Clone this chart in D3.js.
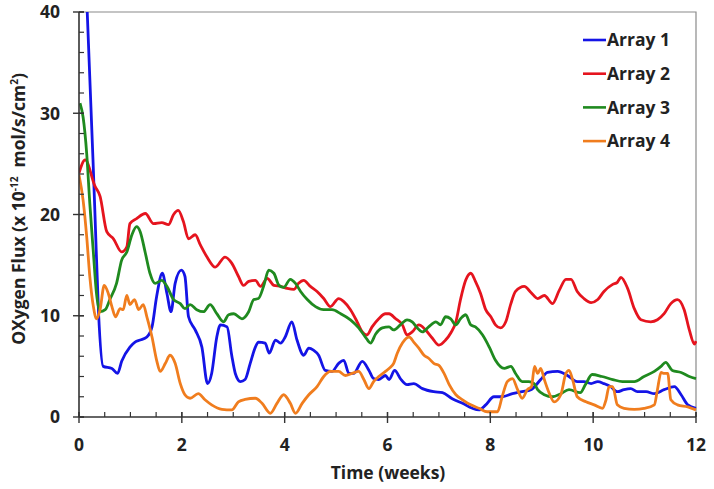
<!DOCTYPE html>
<html>
<head>
<meta charset="utf-8">
<script src="https://cdn.jsdelivr.net/npm/d3@7"></script>
<style>
  html, body { margin: 0; padding: 0; background: #fff; }
  svg { display: block; font-family: "Open Sans", "DejaVu Sans", sans-serif; }
</style>
</head>
<body>
<svg id="chart" width="714" height="489"></svg>
<script>
// ---- data (time in weeks, flux x 1e-12 mol/s/cm2) ----
const seriesNames = ["Array 1", "Array 2", "Array 3", "Array 4"];
const seriesColors = ["#1414e6", "#e5141e", "#1f8a1f", "#f07d1e"];
const xTicks = [0, 2, 4, 6, 8, 10, 12];
const yTicks = [0, 10, 20, 30, 40];

const array1 = [[0.12,44],[0.16,40],[0.31,20.1],[0.38,10.3],[0.47,5.0],[0.64,4.8],[0.75,4.3],[0.83,5.5],[0.99,6.9],[1.09,7.4],[1.19,7.6],[1.32,7.9],[1.42,8.9],[1.51,11.9],[1.62,14.2],[1.71,12.2],[1.79,10.4],[1.87,13.2],[1.99,14.5],[2.06,13.9],[2.13,9.9],[2.26,8.6],[2.39,6.9],[2.50,3.3],[2.58,4.3],[2.68,7.9],[2.75,9.1],[2.88,8.9],[2.97,6.1],[3.04,4.3],[3.14,3.5],[3.23,3.7],[3.33,5.3],[3.43,6.9],[3.49,7.4],[3.62,7.3],[3.70,6.3],[3.82,7.6],[3.92,7.3],[4.01,7.9],[4.14,9.4],[4.24,7.6],[4.37,6.1],[4.47,6.8],[4.56,6.6],[4.66,6.1],[4.79,4.6],[4.92,4.5],[5.05,5.3],[5.15,5.6],[5.25,4.3],[5.34,4.3],[5.51,5.5],[5.64,4.6],[5.73,3.8],[5.83,3.7],[5.96,4.1],[6.03,3.7],[6.14,4.6],[6.25,3.8],[6.38,3.2],[6.51,3.3],[6.68,2.8],[6.90,2.5],[7.07,2.4],[7.26,1.8],[7.46,1.35],[7.65,0.86],[7.78,0.7],[7.91,1.2],[8.07,2.0],[8.23,2.0],[8.43,2.3],[8.62,2.5],[8.79,2.7],[8.98,3.7],[9.11,4.4],[9.31,4.5],[9.50,4.1],[9.69,3.5],[9.82,3.5],[9.96,3.3],[10.09,3.5],[10.21,3.3],[10.34,3.0],[10.47,2.5],[10.60,2.7],[10.73,2.8],[10.86,2.5],[11.03,2.5],[11.19,2.3],[11.38,2.7],[11.58,3.0],[11.71,2.2],[11.84,1.2],[12.0,0.86]];

const array2 = [[0,24.1],[0.12,25.4],[0.31,22.8],[0.41,21.8],[0.54,18.3],[0.67,17.6],[0.83,16.3],[0.93,16.8],[0.99,19.1],[1.12,19.6],[1.29,20.1],[1.45,19.1],[1.61,19.2],[1.74,19.0],[1.84,20.0],[1.93,20.4],[2.03,19.3],[2.13,17.6],[2.26,18.0],[2.36,17.0],[2.49,15.8],[2.65,14.8],[2.84,15.8],[2.97,15.2],[3.10,13.9],[3.20,13.0],[3.30,13.4],[3.43,13.5],[3.53,12.9],[3.66,13.7],[3.79,13.0],[3.92,12.9],[4.05,12.7],[4.18,12.6],[4.27,13.2],[4.37,13.5],[4.50,12.9],[4.63,12.4],[4.76,11.7],[4.89,10.9],[5.05,11.7],[5.15,11.4],[5.28,10.6],[5.41,9.4],[5.51,8.4],[5.60,8.1],[5.70,8.9],[5.83,9.7],[5.96,10.2],[6.03,10.2],[6.16,9.7],[6.29,9.1],[6.38,8.1],[6.48,8.4],[6.61,9.1],[6.74,8.6],[6.87,7.8],[7.00,7.1],[7.13,7.6],[7.23,8.3],[7.33,9.4],[7.42,11.6],[7.52,13.5],[7.62,14.2],[7.71,13.4],[7.81,12.2],[7.91,10.6],[8.01,9.9],[8.10,9.1],[8.20,8.8],[8.30,9.4],[8.40,11.2],[8.49,12.4],[8.66,12.9],[8.79,12.3],[8.92,11.7],[9.05,12.0],[9.21,11.2],[9.34,12.5],[9.47,13.6],[9.57,13.6],[9.69,12.4],[9.82,11.7],[9.96,11.3],[10.09,11.6],[10.21,12.4],[10.38,13.1],[10.47,13.3],[10.54,13.8],[10.67,12.7],[10.80,10.7],[10.93,9.6],[11.12,9.4],[11.25,9.6],[11.38,10.2],[11.51,11.2],[11.64,11.6],[11.77,10.6],[11.87,8.6],[11.97,7.2],[12.0,7.5]];

const array3 = [[0.02,31.0],[0.08,29.6],[0.15,26.0],[0.21,21.1],[0.28,16.2],[0.34,12.2],[0.41,10.4],[0.51,10.6],[0.60,11.6],[0.73,13.2],[0.83,15.5],[0.93,16.3],[1.03,18.0],[1.12,18.8],[1.19,18.3],[1.29,16.2],[1.38,14.2],[1.48,13.2],[1.61,13.5],[1.71,12.9],[1.84,11.6],[1.97,11.2],[2.06,10.7],[2.16,11.1],[2.29,10.6],[2.42,10.4],[2.55,11.1],[2.68,10.2],[2.81,9.4],[2.91,10.1],[3.01,10.2],[3.17,9.7],[3.30,10.4],[3.40,11.6],[3.49,11.7],[3.59,12.9],[3.69,14.5],[3.79,14.2],[3.89,13.0],[3.98,12.8],[4.11,13.6],[4.21,13.2],[4.31,12.4],[4.44,11.6],[4.60,10.9],[4.76,10.6],[4.92,10.6],[5.09,10.2],[5.28,9.6],[5.44,8.8],[5.57,7.9],[5.67,7.3],[5.77,8.2],[5.90,8.8],[6.03,8.9],[6.12,8.6],[6.25,9.1],[6.38,9.6],[6.48,9.4],[6.58,8.8],[6.68,8.4],[6.80,8.9],[6.94,9.4],[7.03,9.1],[7.13,9.9],[7.23,9.7],[7.33,9.1],[7.42,9.7],[7.52,10.1],[7.62,9.1],[7.71,8.9],[7.85,8.1],[7.98,6.9],[8.10,5.6],[8.27,4.8],[8.40,5.0],[8.49,4.3],[8.62,3.5],[8.75,3.5],[8.85,3.3],[8.92,2.7],[9.05,2.2],[9.21,2.0],[9.37,2.3],[9.53,2.7],[9.75,2.4],[9.85,3.2],[9.98,4.2],[10.17,4.0],[10.38,3.7],[10.57,3.5],[10.80,3.5],[10.99,4.0],[11.19,4.5],[11.32,5.0],[11.41,5.4],[11.54,4.6],[11.71,4.4],[11.87,4.0],[12.0,3.8]];

const array4 = [[0,23.9],[0.08,21.4],[0.15,17.8],[0.21,13.9],[0.28,10.9],[0.34,9.7],[0.41,10.6],[0.49,13.0],[0.57,12.2],[0.64,10.9],[0.71,9.9],[0.80,10.7],[0.86,10.6],[0.93,12.0],[0.99,11.1],[1.08,11.6],[1.16,10.6],[1.25,11.1],[1.32,9.9],[1.42,7.9],[1.51,5.6],[1.58,4.5],[1.68,5.3],[1.77,6.1],[1.87,5.3],[1.97,3.3],[2.06,2.2],[2.16,1.85],[2.32,2.3],[2.45,1.7],[2.58,1.2],[2.78,0.76],[2.97,0.7],[3.10,1.5],[3.23,1.74],[3.43,1.85],[3.56,1.35],[3.72,0.37],[3.85,1.35],[3.98,2.2],[4.11,1.35],[4.21,0.37],[4.34,1.35],[4.47,2.2],[4.63,3.0],[4.76,4.0],[4.89,4.5],[5.05,4.5],[5.18,4.1],[5.31,4.3],[5.44,4.5],[5.54,3.7],[5.64,2.8],[5.73,3.5],[5.83,4.0],[5.96,4.5],[6.03,4.8],[6.12,5.3],[6.19,6.3],[6.29,7.3],[6.42,7.9],[6.51,7.4],[6.61,6.8],[6.71,6.1],[6.80,5.8],[6.90,5.3],[7.00,5.1],[7.10,4.3],[7.20,3.2],[7.33,2.2],[7.46,1.7],[7.62,1.2],[7.78,0.86],[7.94,0.52],[8.14,0.52],[8.23,2.0],[8.33,3.5],[8.43,3.8],[8.53,2.7],[8.62,1.85],[8.72,2.7],[8.80,3.0],[8.86,5.0],[8.92,4.3],[8.98,4.8],[9.05,3.7],[9.15,2.3],[9.24,1.5],[9.37,2.2],[9.47,4.3],[9.53,4.6],[9.60,3.7],[9.69,2.0],[9.86,1.5],[10.02,1.2],[10.18,0.86],[10.25,1.7],[10.31,3.0],[10.38,3.0],[10.47,1.2],[10.60,0.86],[10.80,0.76],[10.99,0.86],[11.19,1.2],[11.25,2.7],[11.32,4.4],[11.38,4.3],[11.45,4.3],[11.51,1.7],[11.64,1.2],[11.84,1.0],[12.0,0.7]];

const allSeries = [array1, array2, array3, array4];

// ---- layout ----
const svg = d3.select("#chart");
const mLeft = 79, mRight = 696, mTop = 12, mBottom = 417;
const x = d3.scaleLinear().domain([0, 12]).range([mLeft, mRight]);
const y = d3.scaleLinear().domain([0, 40]).range([mBottom, mTop]);

svg.append("defs").append("clipPath").attr("id", "plotclip")
  .append("rect").attr("x", mLeft).attr("y", mTop).attr("width", mRight - mLeft + 1).attr("height", mBottom - mTop);

// frame (top and right, gray)
svg.append("path")
  .attr("d", `M${mLeft},${mTop}H${mRight}V${mBottom}`)
  .attr("fill", "none").attr("stroke", "#8a8a8a").attr("stroke-width", 1.2);

// lines
const line = d3.line().x(d => x(d[0])).y(d => y(d[1])).curve(d3.curveMonotoneX);
const g = svg.append("g").attr("clip-path", "url(#plotclip)");
allSeries.forEach((s, i) => {
  g.append("path").datum(s)
    .attr("d", line)
    .attr("fill", "none")
    .attr("stroke", seriesColors[i])
    .attr("stroke-width", 2.8)
    .attr("stroke-linejoin", "round");
});

// axes
const xAxisG = svg.append("g").attr("transform", `translate(0,${mBottom})`);
xAxisG.append("line").attr("x1", mLeft).attr("x2", mRight).attr("stroke", "#333").attr("stroke-width", 1.6);
xAxisG.selectAll(".minor").data(d3.range(0, 12.01, 0.5)).enter().append("line")
  .attr("x1", d => x(d)).attr("x2", d => x(d)).attr("y1", 0).attr("y2", -5)
  .attr("stroke", "#333").attr("stroke-width", 1.2);
xAxisG.selectAll(".major").data(xTicks).enter().append("line")
  .attr("x1", d => x(d)).attr("x2", d => x(d)).attr("y1", -5).attr("y2", 6)
  .attr("stroke", "#333").attr("stroke-width", 1.4);
xAxisG.selectAll(".lbl").data(xTicks).enter().append("text")
  .attr("x", d => x(d)).attr("y", 34).attr("text-anchor", "middle")
  .attr("font-size", 17.5).attr("font-weight", "bold").attr("fill", "#222")
  .text(d => d);

const yAxisG = svg.append("g").attr("transform", `translate(${mLeft},0)`);
yAxisG.append("line").attr("y1", mTop).attr("y2", mBottom).attr("stroke", "#333").attr("stroke-width", 1.6);
yAxisG.selectAll(".minor").data(d3.range(0, 40.01, 2)).enter().append("line")
  .attr("y1", d => y(d)).attr("y2", d => y(d)).attr("x1", 0).attr("x2", 5)
  .attr("stroke", "#333").attr("stroke-width", 1.2);
yAxisG.selectAll(".major").data(yTicks).enter().append("line")
  .attr("y1", d => y(d)).attr("y2", d => y(d)).attr("x1", -6).attr("x2", 5)
  .attr("stroke", "#333").attr("stroke-width", 1.4);
yAxisG.selectAll(".lbl").data(yTicks).enter().append("text")
  .attr("x", -19).attr("y", d => y(d)).attr("dy", "0.36em").attr("text-anchor", "end")
  .attr("font-size", 17.5).attr("font-weight", "bold").attr("fill", "#222")
  .text(d => d);

// axis titles
svg.append("text").attr("x", 388).attr("y", 479)
  .attr("text-anchor", "middle").attr("font-size", 17.5).attr("font-weight", "bold").attr("fill", "#222")
  .text("Time (weeks)");

const yt = svg.append("text")
  .attr("transform", "translate(25,209) rotate(-90)")
  .attr("text-anchor", "middle").attr("font-size", 17.5).attr("font-weight", "bold").attr("fill", "#222");
yt.append("tspan").text("OXygen Flux (x 10");
yt.append("tspan").attr("dy", -7).attr("font-size", 10).text("-12");
yt.append("tspan").attr("dy", 7).text("\u00a0 mol/s/cm");
yt.append("tspan").attr("dy", -7).attr("font-size", 10).text("2");
yt.append("tspan").attr("dy", 7).text(")");

// legend
const leg = svg.append("g");
seriesNames.forEach((n, i) => {
  const ly = 40 + i * 33.7;
  leg.append("line").attr("x1", 583).attr("x2", 606).attr("y1", ly).attr("y2", ly)
    .attr("stroke", seriesColors[i]).attr("stroke-width", 2.6);
  leg.append("text").attr("x", 607).attr("y", ly).attr("dy", "0.36em")
    .attr("font-size", 17.5).attr("font-weight", "bold").attr("fill", "#222").text(n);
});
</script>
</body>
</html>
